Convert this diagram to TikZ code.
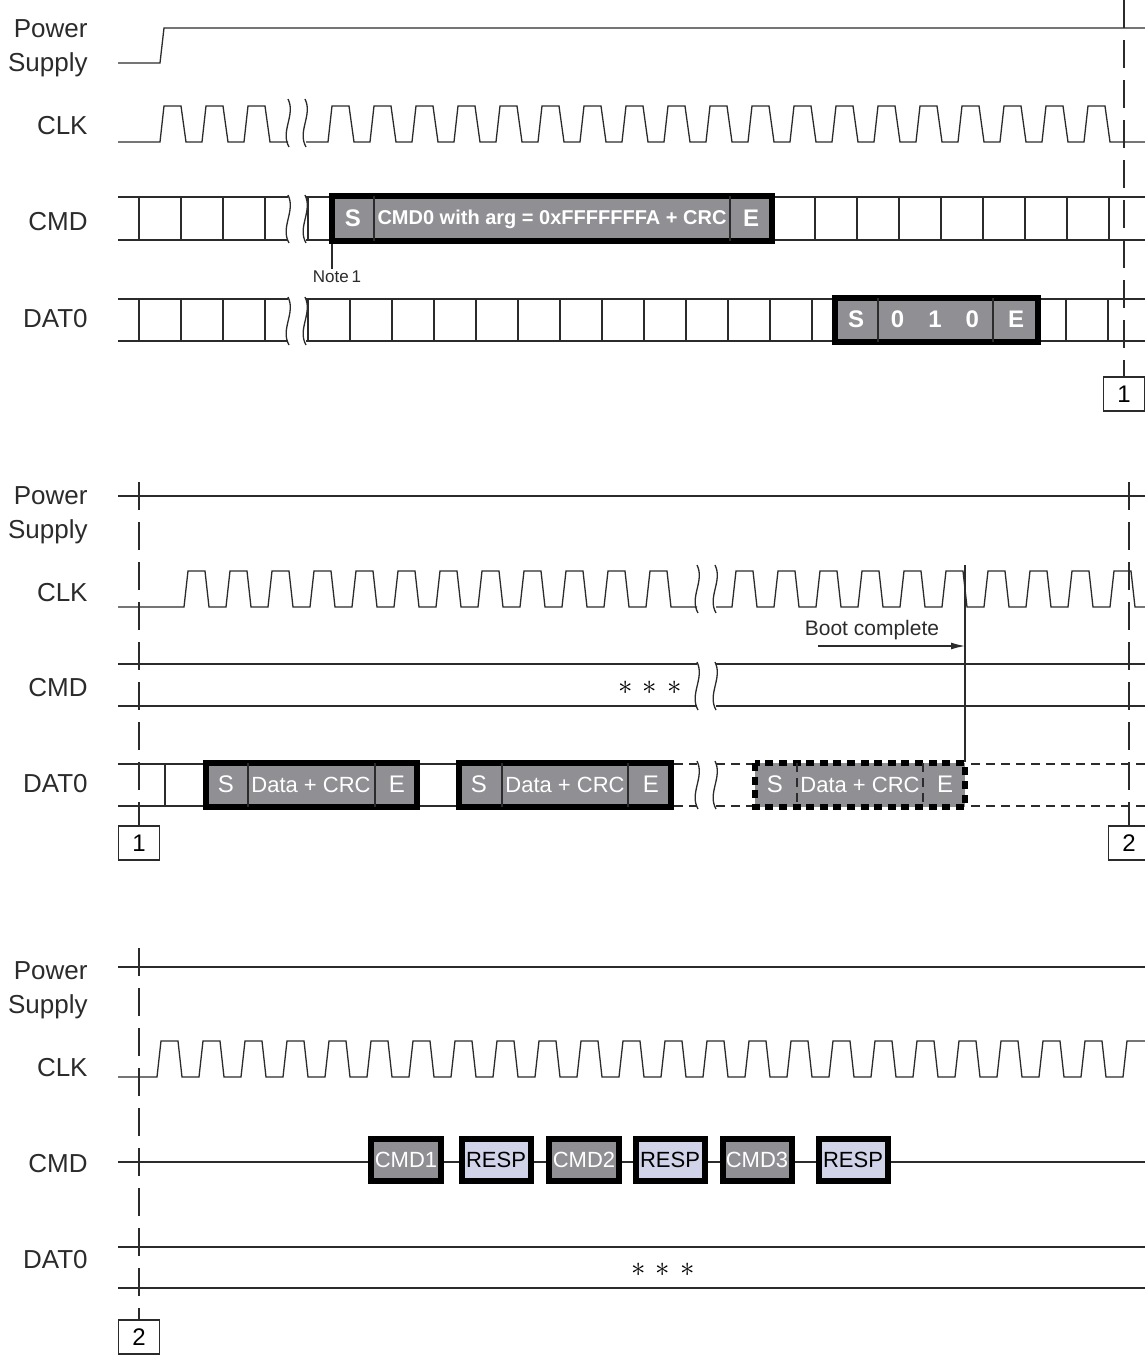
\documentclass[tikz,border=0pt]{standalone}
\usepackage{fontspec}
\setmainfont{Liberation Sans}
\usepackage{xcolor}
\usepackage{tikz}
\usetikzlibrary{positioning, arrows.meta}
\definecolor{pktgray}{HTML}{8F8F94}
\definecolor{respblue}{HTML}{D1D4E8}
\definecolor{inkgray}{HTML}{2B2B2B}

\tikzset{
  sig/.style={draw=inkgray, line width=0.65pt},
  sigdash/.style={sig, dash pattern=on 4.5pt off 3pt},
  bound/.style={draw=inkgray, line width=0.75pt, dash pattern=on 14pt off 6pt},
  lbl/.style={anchor=east, align=right, inner sep=0pt, text=inkgray,
              font=\fontsize{13}{17}\selectfont},
  pkt/.style={draw=black, line width=3pt, fill=pktgray},
  pktresp/.style={pkt, fill=respblue},
  pktdash/.style={draw=black, line width=2.6pt, fill=pktgray, dash pattern=on 4pt off 2.8pt},
  field/.style={text=white, inner sep=0pt, font=\fontsize{11}{13}\selectfont},
  fieldse/.style={field, font=\fontsize{12}{14}\selectfont},
  fieldb/.style={field, font=\fontsize{10}{12}\selectfont\bfseries},
  fieldbse/.style={field, font=\fontsize{12}{14}\selectfont\bfseries},
  stars/.style={text=black, font=\fontsize{14}{16}\selectfont},
  marker/.style={draw=inkgray, line width=0.65pt, fill=white, inner sep=0pt,
                 minimum width=20.5pt, minimum height=17pt, font=\fontsize{12}{14}\selectfont},
  brk/.pic={\draw[sig] (0,-24) .. controls (8,-8) and (-8,8) .. (1,24);},
}

\begin{document}
\begin{tikzpicture}[x=0.5pt, y=-0.5pt]
\useasboundingbox (0,0) rectangle (1145,1357);

% ---------- part 1: power up, CMD0 ----------
\node[lbl] (pwr1) at (88,48) {Power\\Supply};
\node[lbl] (clk1) at (88,126) {CLK};
\node[lbl] (cmd1) at (88,222) {CMD};
\node[lbl] (dat1) at (88,319) {DAT0};

\draw[sig] (118,63) -- (160,63) -- (164,28) -- (1145,28);
\draw[sig] (118,142) \foreach \k in {0,...,2} {-- ({160+42*\k},142) -- ({164+42*\k},106) -- ({181+42*\k},106) -- ({186+42*\k},142)} -- (288,142);
\draw[sig] (306,142) \foreach \k in {0,...,18} {-- ({328+42*\k},142) -- ({332+42*\k},106) -- ({349+42*\k},106) -- ({354+42*\k},142)} -- (1145,142);

\draw[sig] (118,197) -- (288,197) (118,240) -- (288,240) (306,197) -- (1145,197) (306,240) -- (1145,240);
\foreach \x in {139,181,223,265,308} \draw[sig] (\x,197) -- (\x,240);
\foreach \x in {815,857,...,1109} \draw[sig] (\x,197) -- (\x,240);

\draw[sig] (118,299) -- (288,299) (118,341) -- (288,341) (306,299) -- (1145,299) (306,341) -- (1145,341);
\foreach \x in {139,181,223,265} \draw[sig] (\x,299) -- (\x,341);
\foreach \x in {308,350,...,812} \draw[sig] (\x,299) -- (\x,341);
\foreach \x in {1066,1108} \draw[sig] (\x,299) -- (\x,341);

\foreach \y in {123,219,321} {
  \pic at (288,\y) {brk};
  \pic at (305,\y) {brk};
}

% CMD0 packet
\draw[pkt] (332,196) rectangle (772,241);
\draw[sig] (374,196) -- (374,241) (730,196) -- (730,241);
\node[fieldbse] (cmd0s) at (353,218) {S};
\node[fieldb] (cmd0arg) at (552,219) {CMD0 with arg = 0xFFFFFFFA + CRC};
\node[fieldbse] (cmd0e) at (751,218) {E};

\coordinate (note1top) at (332,244);
\node[inner sep=1pt, text=inkgray, font=\fontsize{8.5}{10}\selectfont] (note1) at (337,277) {Note\,1};
\draw[sig] (note1top) -- (note1.north -| note1top);

% boot acknowledge
\draw[pkt] (835,298) rectangle (1038,342);
\draw[sig] (878,298) -- (878,342) (993,298) -- (993,342);
\node[fieldbse] (acks) at (856,319) {S};
\node[fieldbse] (ackbits) at (935,319) {0\quad1\quad0};
\node[fieldbse] (acke) at (1016,319) {E};

\node[marker] (mark1a) at (1124,394) {1};
\coordinate (b1top) at (1124,0);
\draw[bound] (b1top) -- (mark1a.north);

% ---------- part 2: boot data ----------
\node[lbl] (pwr2) at (88,515) {Power\\Supply};
\node[lbl] (clk2) at (88,593) {CLK};
\node[lbl] (cmd2) at (88,688) {CMD};
\node[lbl] (dat2) at (88,784) {DAT0};

\draw[sig] (118,496) -- (1145,496);
\draw[sig] (118,607) \foreach \k in {0,...,11} {-- ({184+42*\k},607) -- ({188+42*\k},571) -- ({205+42*\k},571) -- ({209+42*\k},607)} -- (697,607);
\draw[sig] (716,607) \foreach \k in {0,...,9} {-- ({732+42*\k},607) -- ({736+42*\k},571) -- ({753+42*\k},571) -- ({757+42*\k},607)} -- (1145,607);

\draw[sig] (118,664) -- (697,664) (118,706) -- (697,706) (716,664) -- (1145,664) (716,706) -- (1145,706);
\node[stars] (stars1) at (650,688) {$\ast$\hspace{5pt}$\ast$\hspace{5pt}$\ast$};

\draw[sig] (118,764) -- (456,764) (118,806) -- (456,806) (165,764) -- (165,806);
\draw[sigdash] (674,764) -- (697,764) (674,806) -- (697,806) (716,764) -- (1145,764) (716,806) -- (1145,806);

\foreach \y in {589,686,785} {
  \pic at (697,\y) {brk};
  \pic at (715,\y) {brk};
}

\draw[pkt] (206,763) rectangle (417,807);
\draw[sig] (248,763) -- (248,807) (375,763) -- (375,807);
\node[fieldse] (blk1s) at (226,784) {S};
\node[field] (blk1d) at (311,785) {Data + CRC};
\node[fieldse] (blk1e) at (397,784) {E};

\draw[pkt] (459,763) rectangle (671,807);
\draw[sig] (502,763) -- (502,807) (628,763) -- (628,807);
\node[fieldse] (blk2s) at (479,784) {S};
\node[field] (blk2d) at (565,785) {Data + CRC};
\node[fieldse] (blk2e) at (651,784) {E};

\draw[pktdash] (755,763) rectangle (965,807);
\draw[sigdash] (797,763) -- (797,807) (923,763) -- (923,807);
\node[fieldse] (blk3s) at (775,784) {S};
\node[field] (blk3d) at (860,785) {Data + CRC};
\node[fieldse] (blk3e) at (945,784) {E};

\coordinate (bootA) at (965,565);
\coordinate (bootB) at (965,762);
\draw[sig] (bootA) -- (bootB);
\node[text=inkgray, font=\fontsize{10.5}{12}\selectfont] (boot) at (872,630) {Boot complete};
\coordinate (bootarrow) at (818,646);
\draw[sig, -{Latex[length=7pt, width=3.5pt]}] (bootarrow) -- (bootarrow -| bootA);

\node[marker] (mark1b) at (139,843) {1};
\coordinate (b1bot) at (139,482);
\draw[bound] (b1bot) -- (mark1b.north);
\node[marker] (mark2a) at (1129,843) {2};
\coordinate (b2top) at (1129,482);
\draw[bound] (b2top) -- (mark2a.north);

% ---------- part 3: CMD1 / CMD2 / CMD3 ----------
\node[lbl] (pwr3) at (88,990) {Power\\Supply};
\node[lbl] (clk3) at (88,1068) {CLK};
\node[lbl] (cmd3) at (88,1164) {CMD};
\node[lbl] (dat3) at (88,1260) {DAT0};

\draw[sig] (118,967) -- (1145,967);
\draw[sig] (118,1077) \foreach \k in {0,...,22} {-- ({157+42*\k},1077) -- ({161+42*\k},1041) -- ({178+42*\k},1041) -- ({182+42*\k},1077)} -- (1123,1077) -- (1127,1041) -- (1145,1041);

\draw[sig] (118,1162) -- (1145,1162);
\draw[pkt] (371,1139) rectangle (441,1181);
\node[field] (cmdone) at (406,1160) {CMD1};
\draw[pktresp] (462,1139) rectangle (531,1181);
\node[field, text=black] (resp1) at (496,1160) {RESP};
\draw[pkt] (549,1139) rectangle (619,1181);
\node[field] (cmdtwo) at (584,1160) {CMD2};
\draw[pktresp] (636,1139) rectangle (705,1181);
\node[field, text=black] (resp2) at (670,1160) {RESP};
\draw[pkt] (723,1139) rectangle (792,1181);
\node[field] (cmdthree) at (757,1160) {CMD3};
\draw[pktresp] (819,1139) rectangle (888,1181);
\node[field, text=black] (resp3) at (853,1160) {RESP};

\draw[sig] (118,1247) -- (1145,1247) (118,1288) -- (1145,1288);
\node[stars] (stars2) at (663,1270) {$\ast$\hspace{5pt}$\ast$\hspace{5pt}$\ast$};

\node[marker] (mark2b) at (139,1337) {2};
\coordinate (b2bot) at (139,948);
\draw[bound] (b2bot) -- (mark2b.north);
\end{tikzpicture}
\end{document}
